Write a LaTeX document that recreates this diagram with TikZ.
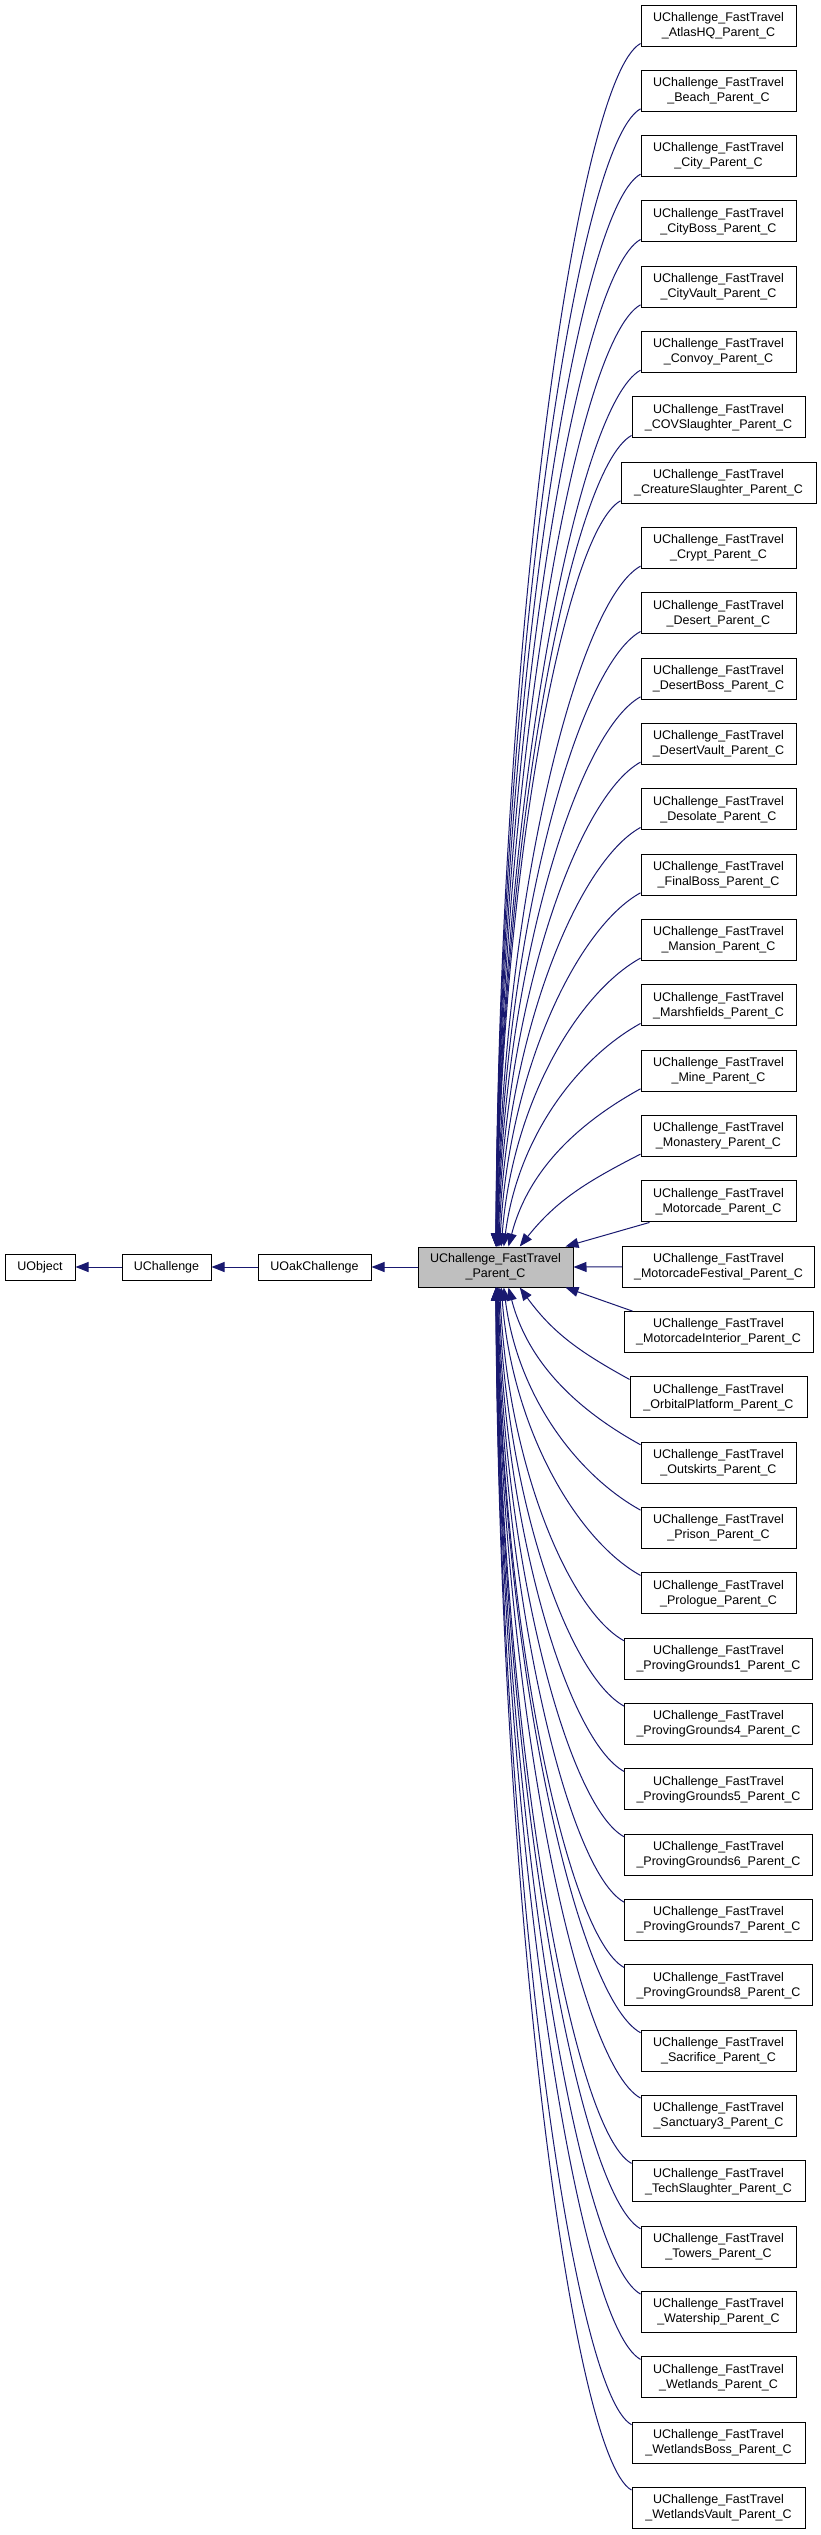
\documentclass[tikz,border=0pt]{standalone}
\usepackage{fontspec}
\setmainfont{Liberation Sans}
\usetikzlibrary{arrows.meta}
\definecolor{edgec}{HTML}{191970}
\definecolor{cfill}{HTML}{BFBFBF}
\begin{document}
\begin{tikzpicture}[x=1pt,y=-1pt,
  box/.style={draw=black, line width=1pt, fill=white, inner sep=0pt, minimum height=41pt, align=center, font=\fontsize{12.5}{15}\selectfont},
  sbox/.style={draw=black, line width=1pt, fill=white, inner sep=0pt, minimum height=26pt, font=\fontsize{12.5}{15}\selectfont},
  edge/.style={draw=edgec, line width=1pt, -{Triangle[length=13pt,width=10pt]}}]
\useasboundingbox[fill=white] (0,0) rectangle (821,2535);
% left chain
\node[sbox, minimum width=70pt] (uobj) at (40,1267) {UObject};
\node[sbox, minimum width=89pt] (uch) at (166.5,1267) {UChallenge};
\node[sbox, minimum width=113pt] (uoak) at (314.5,1267) {UOakChallenge};
\node[box, fill=cfill, minimum width=155pt, minimum height=40pt] (c) at (495.5,1267) {UChallenge\_FastTravel\\\_Parent\_C};
\draw[edge] (uch.west) -- (uobj.east);
\draw[edge] (uoak.west) -- (uch.east);
\draw[edge] (c.west) -- (uoak.east);
\foreach \i/\nm/\w in {1/AtlasHQ/155, 2/Beach/155, 3/City/155, 4/CityBoss/155, 5/CityVault/155, 6/Convoy/155, 7/COVSlaughter/173, 8/CreatureSlaughter/195, 9/Crypt/155, 10/Desert/155, 11/DesertBoss/155, 12/DesertVault/155, 13/Desolate/155, 14/FinalBoss/155, 15/Mansion/155, 16/Marshfields/155, 17/Mine/155, 18/Monastery/155, 19/Motorcade/155, 20/MotorcadeFestival/192, 21/MotorcadeInterior/189, 22/OrbitalPlatform/177, 23/Outskirts/155, 24/Prison/155, 25/Prologue/155, 26/ProvingGrounds1/188, 27/ProvingGrounds4/188, 28/ProvingGrounds5/188, 29/ProvingGrounds6/188, 30/ProvingGrounds7/188, 31/ProvingGrounds8/188, 32/Sacrifice/155, 33/Sanctuary3/155, 34/TechSlaughter/173, 35/Towers/155, 36/Watership/155, 37/Wetlands/155, 38/WetlandsBoss/173, 39/WetlandsVault/173} {
  \node[box, minimum width=\w pt] (b\i) at (718.5,{25.5+(\i-1)*65.33}) {UChallenge\_FastTravel\\\_\nm\_Parent\_C};
  \pgfmathtruncatemacro\k{abs(20-\i)}
  \pgfmathsetmacro\xw{718.5-\w/2}
  \ifnum\i=20
    \draw[edge] (b\i.west) -- (c.east);
  \else
    \ifnum\k=1
      \ifnum\i<20
        \draw[edge] ([xshift=9pt]b\i.south west) -- ([xshift=-8pt]c.north east);
      \else
        \draw[edge] ([xshift=9pt]b\i.north west) -- ([xshift=-8pt]c.south east);
      \fi
    \else
      \pgfmathsetmacro\s{\i<20 ? 1 : -1}
      \pgfmathsetmacro\yc{25.5+(\i-1)*65.33}
      \pgfmathsetmacro\pa{\yc+\s*17.5}
      \pgfmathsetmacro\pb{\i<20 ? 1247 : 1287}
      \pgfmathsetmacro\xe{495.5+70/(\k^1.5)}
      \pgfmathsetmacro\dx{\xw-\xe}
      \pgfmathsetmacro\dy{abs(\pb-\pa)}
      \pgfmathsetmacro\cax{\xw-0.45*\dx}
      \pgfmathsetmacro\cay{\pa+\s*min(0.25*\dx,0.3*\dy)}
      \pgfmathsetmacro\cbx{\xe+0.3/(\k-1)*\dx}
      \pgfmathsetmacro\cby{\pb-\s*0.5*\dy}
      \pgfmathsetmacro\sh{\xe-418}
      \ifnum\i<20
        \draw[edge] ([yshift=3pt]b\i.south west) .. controls (\cax,\cay) and (\cbx,\cby) .. ([xshift=\sh pt]c.north west);
      \else
        \draw[edge] ([yshift=-3pt]b\i.north west) .. controls (\cax,\cay) and (\cbx,\cby) .. ([xshift=\sh pt]c.south west);
      \fi
    \fi
  \fi
}
\end{tikzpicture}
\end{document}
